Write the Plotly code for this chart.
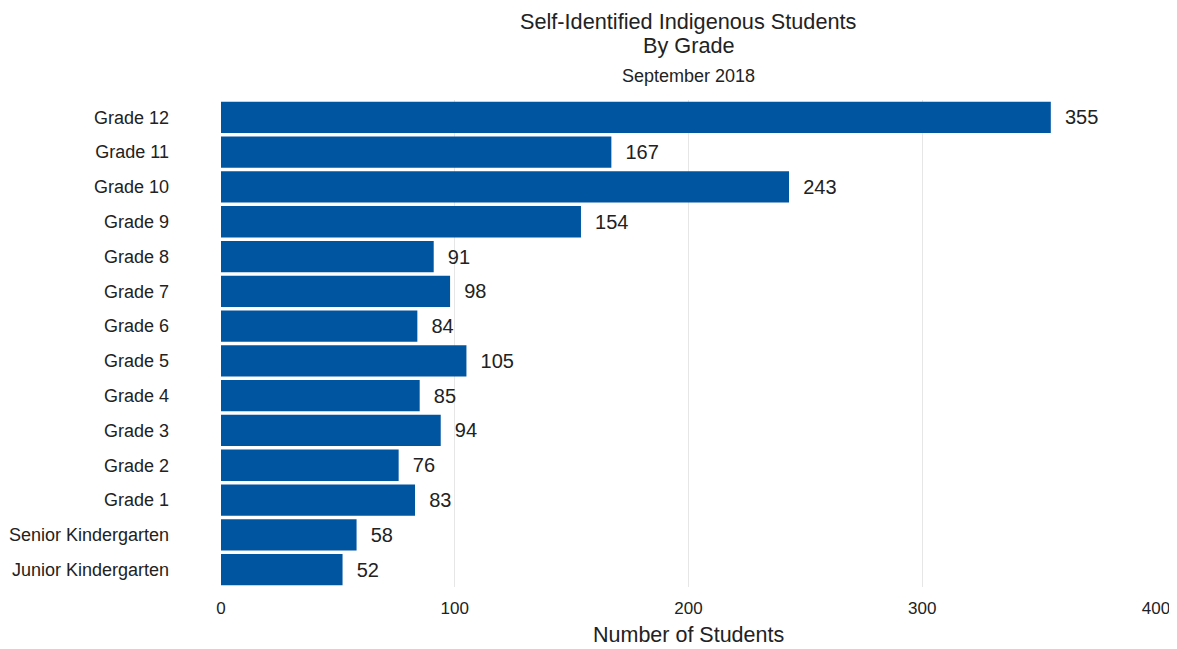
import plotly.graph_objects as go

grades = ["Junior Kindergarten", "Senior Kindergarten", "Grade 1", "Grade 2", "Grade 3",
          "Grade 4", "Grade 5", "Grade 6", "Grade 7", "Grade 8", "Grade 9",
          "Grade 10", "Grade 11", "Grade 12"]
students = [52, 58, 83, 76, 94, 85, 105, 84, 98, 91, 154, 243, 167, 355]
x_ticks = [0, 100, 200, 300, 400]

font = "Liberation Sans, Arial, sans-serif"
ink = "#222222"

W, H = 1169, 641          # page body has an 8px margin
L, R, T, B = 213, 21, 92, 62
PH = H - T - B


def yp(y_fig):
    """figure pixel y (from top) -> paper coordinate"""
    return (H - B - y_fig) / PH


fig = go.Figure(go.Bar(
    x=students, y=grades, orientation="h",
    marker=dict(color="#0055A1", line=dict(width=0)),
    text=students, texttemplate="  %{x}", textposition="outside",
    textfont=dict(family=font, size=20, color=ink),
    cliponaxis=False, width=0.9,
))

annots = [
    ("Self-Identified Indigenous Students", 14, 21.7),
    ("By Grade", 37, 21.7),
    ("September 2018", 68, 18),
    ("Number of Students", 627, 21.5),
]
fig.update_layout(
    width=W, height=H,
    paper_bgcolor="white", plot_bgcolor="white",
    margin=dict(l=L, r=R, t=T, b=B, autoexpand=False),
    font=dict(family=font, color=ink),
    showlegend=False,
    annotations=[dict(text=t, x=0.5, xref="paper", xanchor="center",
                      y=yp(y), yref="paper", yanchor="middle", showarrow=False,
                      font=dict(family=font, size=s, color=ink))
                 for t, y, s in annots],
)

fig.update_xaxes(range=[0, 400], tickvals=x_ticks, showgrid=True, gridcolor="#E6E6E6",
                 gridwidth=1, zeroline=False, showline=False, ticks="",
                 ticklabelstandoff=9,
                 tickfont=dict(family=font, size=17, color=ink))
fig.update_yaxes(showgrid=False, ticks="", showline=False, ticklabelstandoff=51,
                 tickfont=dict(family=font, size=18, color=ink))

fig.write_html("out.html")
